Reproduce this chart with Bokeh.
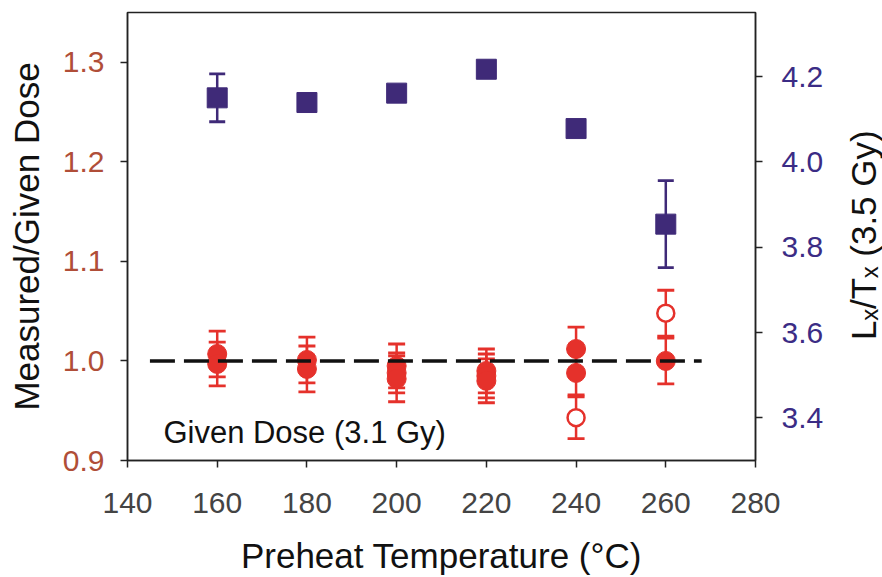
import math
from bokeh.plotting import figure
from bokeh.layouts import row
from bokeh.models import LinearAxis, Range1d, FixedTicker, PrintfTickFormatter, Label, ColumnDataSource
from bokeh.embed import file_html
from bokeh.resources import INLINE

# ---------------- data ----------------
temps = [160, 180, 200, 220, 240, 260]
lxtx = [4.150, 4.139, 4.161, 4.217, 4.078, 3.854]
lxtx_err = [0.056, 0.01, 0.01, 0.01, 0.01, 0.102]

filled_t = [160, 160, 180, 180, 200, 200, 200, 220, 220, 220, 240, 240, 260]
filled_ratio = [1.007, 0.997, 1.001, 0.992, 0.995, 0.988, 0.982, 0.990, 0.985, 0.980, 1.012, 0.988, 1.000]
filled_err = [0.023, 0.022, 0.023, 0.023, 0.022, 0.020, 0.023, 0.022, 0.022, 0.022, 0.022, 0.022, 0.023]

open_t = [240, 260]
open_ratio = [0.943, 1.048]
open_err = [0.021, 0.023]

given_line_t = [145, 268]
given_line_ratio = [1.0, 1.0]

x_ticks = [140, 160, 180, 200, 220, 240, 260, 280]
left_ticks = [0.9, 1.0, 1.1, 1.2, 1.3]
right_ticks = [3.4, 3.6, 3.8, 4.0, 4.2]

RED = "#E5312B"
BLUE = "#3F2A78"
LEFT_LBL = "#B04E38"
RIGHT_LBL = "#3B2C85"
FONT = "Liberation Sans"

p = figure(width=834, height=577, x_range=Range1d(140, 280), y_range=Range1d(0.9, 1.35),
           output_backend="svg", toolbar_location=None,
           min_border_left=127, min_border_right=79, min_border_top=12, min_border_bottom=114)
p.extra_y_ranges = {"right": Range1d(3.3, 4.35)}

p.xgrid.visible = False
p.ygrid.visible = False
p.outline_line_color = "#222222"
p.outline_line_width = 1.5
p.background_fill_color = "white"
p.border_fill_color = "white"

# x axis
xa = p.xaxis[0]
xa.ticker = FixedTicker(ticks=x_ticks)
xa.axis_label = "Preheat Temperature (°C)"

# left axis
la = p.yaxis[0]
la.ticker = FixedTicker(ticks=left_ticks)
la.formatter = PrintfTickFormatter(format="%.1f")
la.axis_label = "Measured/Given Dose"
la.major_label_text_color = LEFT_LBL

# right axis
ra = LinearAxis(y_range_name="right", ticker=FixedTicker(ticks=right_ticks),
                formatter=PrintfTickFormatter(format="%.1f"))
ra.major_label_text_color = RIGHT_LBL
p.add_layout(ra, "right")

for ax in [xa, la, ra]:
    ax.axis_line_width = 1.5
    ax.axis_line_color = "#222222"
    ax.major_tick_line_width = 1.5
    ax.major_tick_line_color = "#222222"
    ax.major_tick_in = 0
    ax.major_tick_out = 7
    ax.minor_tick_line_color = None
    ax.major_label_text_font = FONT
    ax.major_label_text_font_size = "30px"
    ax.axis_label_text_font = FONT
    ax.axis_label_text_font_size = "35px"
    ax.axis_label_text_font_style = "normal"
    ax.axis_label_text_color = "#111111"
xa.major_label_standoff = 25
xa.axis_label_standoff = 20
la.major_label_standoff = 16
la.axis_label_standoff = 14
ra.major_label_standoff = 19

# ---------------- red error bars ----------------
fsrc = ColumnDataSource(dict(t=filled_t, y=filled_ratio,
                             lo=[v - e for v, e in zip(filled_ratio, filled_err)],
                             hi=[v + e for v, e in zip(filled_ratio, filled_err)]))
osrc = ColumnDataSource(dict(t=open_t, y=open_ratio,
                             lo=[v - e for v, e in zip(open_ratio, open_err)],
                             hi=[v + e for v, e in zip(open_ratio, open_err)]))
for src in (fsrc, osrc):
    p.segment(x0="t", y0="lo", x1="t", y1="hi", source=src, line_color=RED, line_width=2.5)
    p.scatter(x="t", y="lo", source=src, marker="dash", size=17, line_color=RED, line_width=2.8)
    p.scatter(x="t", y="hi", source=src, marker="dash", size=17, line_color=RED, line_width=2.8)

p.scatter(x="t", y="y", source=fsrc, marker="circle", size=19, fill_color=RED, line_color=RED, line_width=1)
p.scatter(x="t", y="y", source=osrc, marker="circle", size=17, fill_color="white", line_color=RED, line_width=2.5)

# given dose line
p.line(given_line_t, given_line_ratio, line_color="#111111", line_width=3.5, line_dash="25 9")

# ---------------- blue squares ----------------
bsrc = ColumnDataSource(dict(t=temps, y=lxtx,
                             lo=[v - e for v, e in zip(lxtx, lxtx_err)],
                             hi=[v + e for v, e in zip(lxtx, lxtx_err)]))
p.segment(x0="t", y0="lo", x1="t", y1="hi", source=bsrc, line_color=BLUE, line_width=2.5, y_range_name="right")
p.scatter(x="t", y="lo", source=bsrc, marker="dash", size=16, line_color=BLUE, line_width=2.8, y_range_name="right")
p.scatter(x="t", y="hi", source=bsrc, marker="dash", size=16, line_color=BLUE, line_width=2.8, y_range_name="right")
p.scatter(x="t", y="y", source=bsrc, marker="square", size=20, fill_color=BLUE, line_color=BLUE,
          line_width=1, y_range_name="right")

# annotation
p.add_layout(Label(x=148, y=0.928, text="Given Dose (3.1 Gy)", text_font=FONT, text_font_size="31px",
                   text_color="#111111", text_baseline="alphabetic", text_align="left"))

# right axis title panel (reads bottom-to-top, like the reference)
t = figure(width=48, height=577, x_range=Range1d(0, 1), y_range=Range1d(0, 1),
           output_backend="svg", toolbar_location=None,
           min_border_left=0, min_border_right=0, min_border_top=0, min_border_bottom=0)
t.xaxis.visible = False
t.yaxis.visible = False
t.xgrid.visible = False
t.ygrid.visible = False
t.outline_line_color = None
t.background_fill_color = "white"
t.border_fill_color = "white"
t.add_layout(Label(x=0.6, y=0.503, text="Lₓ/Tₓ (3.5 Gy)", angle=math.pi / 2,
                   text_font=FONT, text_font_size="35px", text_color="#111111",
                   text_align="center", text_baseline="middle"))

layout = row(p, t, spacing=0)
open("out.html", "w").write(file_html(layout, INLINE))
